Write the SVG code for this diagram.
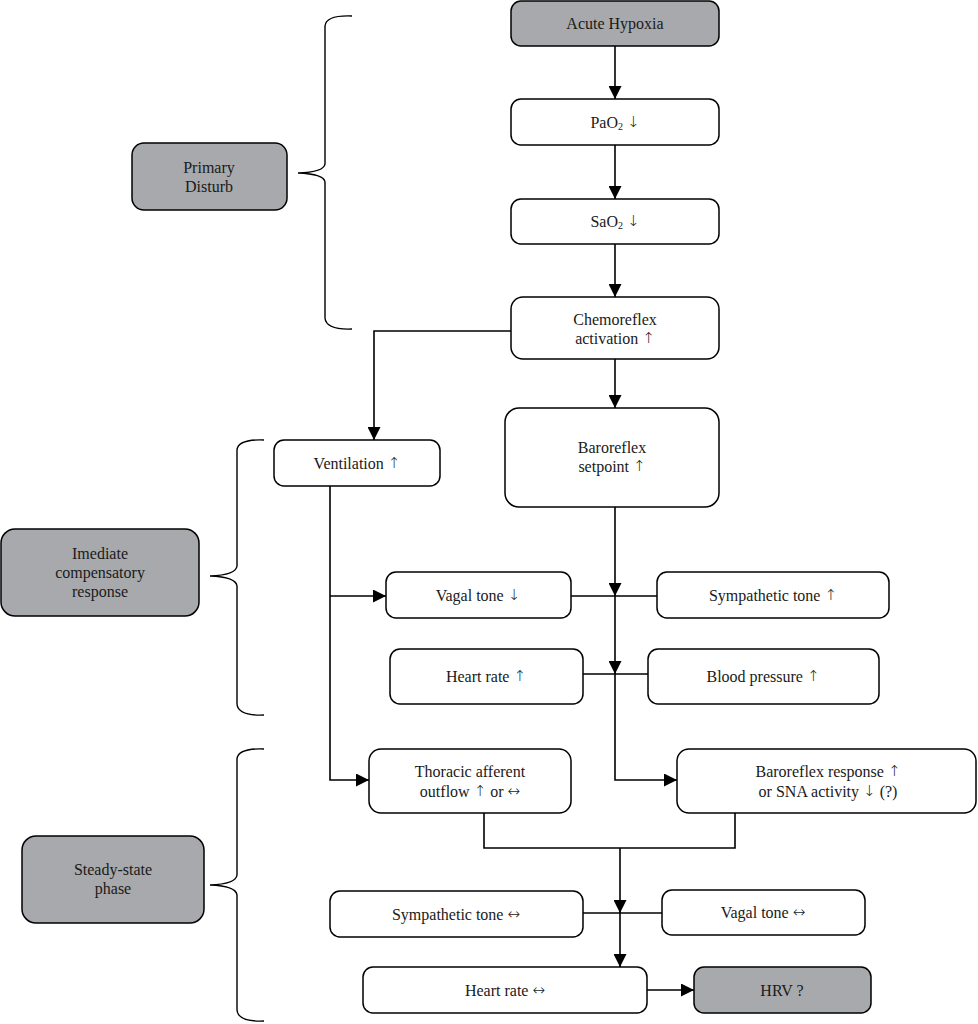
<svg xmlns="http://www.w3.org/2000/svg" width="978" height="1024" viewBox="0 0 978 1024">
<defs>
<marker id="arr" markerUnits="userSpaceOnUse" markerWidth="13" markerHeight="13" refX="13" refY="6.5" orient="auto">
<path d="M0,0 L13,6.5 L0,13 z" fill="#000"/>
</marker>
<style>
.box{fill:#fff;stroke:#000;stroke-width:1.5}
.gray{fill:#a7a9ac;stroke:#000;stroke-width:1.5}
.t{font-family:"Liberation Serif","DejaVu Serif",serif;font-size:16px;fill:#1a1a1a;text-anchor:middle;dominant-baseline:central}
.a{font-family:"DejaVu Sans",sans-serif;font-size:15px;font-weight:300}
.ln{fill:none;stroke:#000;stroke-width:1.6}
.ar{fill:none;stroke:#000;stroke-width:1.6;marker-end:url(#arr)}
.br{fill:none;stroke:#000;stroke-width:1.4}
</style>
</defs>
<rect width="978" height="1024" fill="#fff"/>

<g id="braces">
<path class="br" d="M352,16 Q326,15 325,26 L325,164 Q324,172 298,173 Q324,174 325,182 L325,318 Q326,330 352,329"/>
<path class="br" d="M264,440 Q238,439 237,450 L237,566 Q236,575 210,576 Q236,577 237,586 L237,704 Q238,716 264,715"/>
<path class="br" d="M264,749 Q238,748 237,759 L237,875 Q236,884 210,885 Q236,886 237,895 L237,1010 Q238,1022 264,1021"/>
</g>

<g id="connectors">
<path class="ar" d="M615,46 V99"/>
<path class="ar" d="M615,145 V199"/>
<path class="ar" d="M615,244 V297"/>
<path class="ar" d="M615,359 V408"/>
<path class="ar" d="M511,331 H374 V440"/>
<path class="ar" d="M330,486 V780 H369"/>
<path class="ar" d="M330,596 H386"/>
<path class="ar" d="M615,507 V596"/>
<path class="ar" d="M615,596 V674"/>
<path class="ar" d="M615,674 V780 H677"/>
<path class="ln" d="M571,596 H657"/>
<path class="ln" d="M583,674 H648"/>
<path class="ln" d="M484,813 V848 H735 V813"/>
<path class="ar" d="M620,848 V913"/>
<path class="ar" d="M620,913 V967"/>
<path class="ln" d="M583,913 H662"/>
<path class="ar" d="M647,990 H694"/>
</g>

<g id="acute-hypoxia"><rect class="gray" x="511" y="1" width="208" height="45" rx="10"/><text class="t" x="615" y="23">Acute Hypoxia</text></g>
<g id="pao2"><rect class="box" x="511" y="99" width="208" height="46" rx="10"/><text class="t" x="615" y="122">PaO<tspan font-size="10" dy="4">2</tspan><tspan dy="-4"> </tspan><tspan class="a">↓</tspan></text></g>
<g id="sao2"><rect class="box" x="511" y="199" width="208" height="45" rx="10"/><text class="t" x="615" y="221">SaO<tspan font-size="10" dy="4">2</tspan><tspan dy="-4"> </tspan><tspan class="a">↓</tspan></text></g>
<g id="chemoreflex"><rect class="box" x="511" y="297" width="208" height="62" rx="12"/><text class="t" x="615" y="319">Chemoreflex</text><text class="t" x="615" y="338">activation <tspan class="a">↑</tspan></text></g>
<g id="baroreflex-setpoint"><rect class="box" x="505" y="408" width="214" height="99" rx="14"/><text class="t" x="612" y="447">Baroreflex</text><text class="t" x="612" y="466">setpoint <tspan class="a">↑</tspan></text></g>
<g id="ventilation"><rect class="box" x="274" y="440" width="166" height="46" rx="10"/><text class="t" x="357" y="463">Ventilation <tspan class="a">↑</tspan></text></g>
<g id="vagal-down"><rect class="box" x="386" y="572" width="185" height="46" rx="10"/><text class="t" x="478" y="595">Vagal tone <tspan class="a">↓</tspan></text></g>
<g id="sympathetic-up"><rect class="box" x="657" y="572" width="232" height="46" rx="10"/><text class="t" x="773" y="595">Sympathetic tone <tspan class="a">↑</tspan></text></g>
<g id="heart-rate-up"><rect class="box" x="390" y="649" width="193" height="55" rx="10"/><text class="t" x="486" y="676">Heart rate <tspan class="a">↑</tspan></text></g>
<g id="blood-pressure"><rect class="box" x="648" y="649" width="231" height="55" rx="10"/><text class="t" x="763" y="676">Blood pressure <tspan class="a">↑</tspan></text></g>
<g id="thoracic"><rect class="box" x="369" y="749" width="202" height="64" rx="12"/><text class="t" x="470" y="771">Thoracic afferent</text><text class="t" x="470" y="791">outflow <tspan class="a">↑</tspan> or <tspan class="a">↔</tspan></text></g>
<g id="baroreflex-response"><rect class="box" x="677" y="749" width="299" height="64" rx="12"/><text class="t" x="828" y="771">Baroreflex response <tspan class="a">↑</tspan></text><text class="t" x="828" y="791">or SNA activity <tspan class="a">↓</tspan> (?)</text></g>
<g id="sympathetic-eq"><rect class="box" x="330" y="891" width="253" height="46" rx="10"/><text class="t" x="456" y="914">Sympathetic tone <tspan class="a">↔</tspan></text></g>
<g id="vagal-eq"><rect class="box" x="662" y="890" width="203" height="45" rx="10"/><text class="t" x="763" y="912">Vagal tone <tspan class="a">↔</tspan></text></g>
<g id="heart-rate-eq"><rect class="box" x="363" y="967" width="284" height="46" rx="10"/><text class="t" x="505" y="990">Heart rate <tspan class="a">↔</tspan></text></g>
<g id="hrv"><rect class="gray" x="694" y="967" width="177" height="46" rx="10"/><text class="t" x="782" y="990">HRV ?</text></g>

<g id="primary-disturb"><rect class="gray" x="132" y="143" width="155" height="67" rx="12"/><text class="t" x="209" y="167">Primary</text><text class="t" x="209" y="186">Disturb</text></g>
<g id="immediate"><rect class="gray" x="1" y="529" width="198" height="87" rx="14"/><text class="t" x="100" y="553">Imediate</text><text class="t" x="100" y="572">compensatory</text><text class="t" x="100" y="591">response</text></g>
<g id="steady-state"><rect class="gray" x="22" y="836" width="182" height="87" rx="14"/><text class="t" x="113" y="869">Steady-state</text><text class="t" x="113" y="888">phase</text></g>
</svg>
